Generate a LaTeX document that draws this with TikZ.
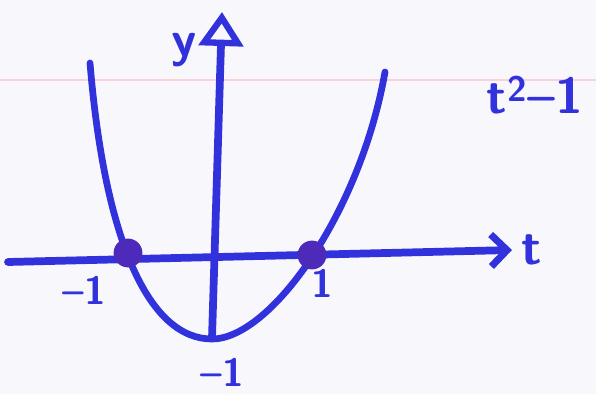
\documentclass[tikz,border=0pt]{standalone}
\usepackage{tikz}
\definecolor{inkblue}{RGB}{50,50,220}
\definecolor{dotink}{RGB}{78,42,186}
\definecolor{paper}{RGB}{248,248,252}
\definecolor{ruleline}{RGB}{250,208,218}
\usetikzlibrary{positioning, arrows.meta}

\begin{document}
\begin{tikzpicture}[
  x=0.025cm, y=0.025cm,
  axis/.style={draw=inkblue, line width=5.5pt, line cap=round},
  curve/.style={draw=inkblue, line width=4.8pt, line cap=round},
  rootdot/.style={circle, fill=dotink, minimum size=0.72cm, inner sep=0pt},
  lbl/.style={font=\fontsize{28}{28}\sffamily\bfseries, text=inkblue, inner sep=1pt},
  biglbl/.style={font=\fontsize{36}{36}\sffamily\bfseries, text=inkblue, inner sep=1pt}
]
\fill[paper] (0,0) rectangle (596,394);
\useasboundingbox (0,0) rectangle (596,394);
\draw[ruleline, line width=1pt] (0,314) -- (596,314);

\coordinate (tstart) at (8,132);
\coordinate (tend)   at (512,144);
\coordinate (ybot)   at (212,56);
\coordinate (ytop)   at (222,382);
\coordinate (ltop)   at (90,331);
\coordinate (vtx)    at (212,55);
\coordinate (rtop)   at (385,322);

\draw[axis, -{Straight Barb[length=0.4cm, width=0.8cm, line width=5pt]}] (tstart) -- (tend);
\draw[axis, -{Triangle[open, length=0.85cm, width=1.1cm, line width=4.5pt]}] (ybot) -- (ytop);

\draw[curve] (ltop) .. controls (105,150) and (150,55) .. (vtx)
                    .. controls (270,55) and (360,180) .. (rtop);

\node[rootdot] (dotL) at (128,141) {};
\node[rootdot] (dotR) at (312,139) {};

\node[lbl] (lblL) at (84,104) {--1};
\node[lbl] (lblR) at (322,111) {1};
\node[lbl] (lblV) at (222,22) {--1};
\node[biglbl, right=0.2cm of tend] (lblT) {t};
\node[biglbl] (lblY) at (184,344) {y};
\node[biglbl] (func) at (535,299) {t\textsuperscript{2}--1};
\end{tikzpicture}
\end{document}
